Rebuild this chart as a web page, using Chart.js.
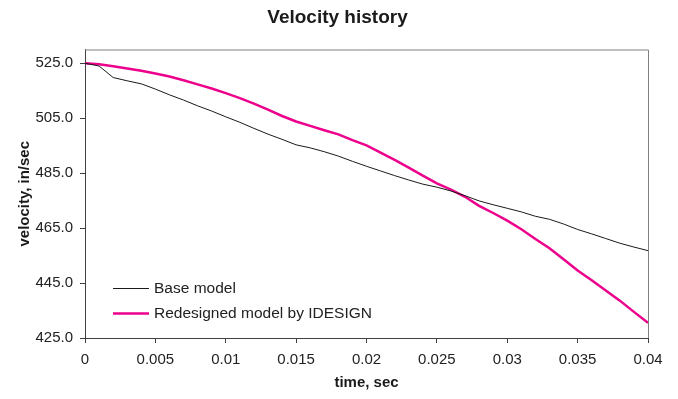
<!DOCTYPE html>
<html>
<head>
<meta charset="utf-8">
<script src="https://cdn.jsdelivr.net/npm/chart.js@4"></script>
<style>
  html, body { margin: 0; padding: 0; background: #fff; }
  canvas { display: block; }
</style>
</head>
<body>
<canvas id="chart" width="678" height="399"></canvas>
<script>
// time, sec
const times = [0, 0.001, 0.002, 0.003, 0.004, 0.005, 0.006, 0.007, 0.008, 0.009,
  0.010, 0.011, 0.012, 0.013, 0.014, 0.015, 0.016, 0.017, 0.018, 0.019,
  0.020, 0.021, 0.022, 0.023, 0.024, 0.025, 0.026, 0.027, 0.028, 0.029,
  0.030, 0.031, 0.032, 0.033, 0.034, 0.035, 0.036, 0.037, 0.038, 0.039, 0.040];

// velocity, in/sec
const baseModel = [525.0, 524.0, 519.8, 518.6, 517.5, 515.6, 513.5, 511.6, 509.5, 507.6,
  505.5, 503.5, 501.3, 499.2, 497.3, 495.3, 494.2, 492.8, 491.2, 489.3,
  487.5, 485.8, 484.1, 482.5, 481.0, 479.9, 478.5, 476.8, 474.9, 473.5,
  472.2, 470.9, 469.3, 468.2, 466.5, 464.5, 462.9, 461.2, 459.5, 458.1, 456.8];

const redesigned = [525.0, 524.6, 523.9, 523.1, 522.3, 521.3, 520.2, 518.8, 517.3, 515.8,
  514.1, 512.3, 510.3, 508.1, 505.8, 503.8, 502.2, 500.6, 499.1, 497.0,
  495.1, 492.5, 489.8, 487.0, 484.1, 481.3, 479.0, 476.4, 473.1, 470.5,
  467.7, 464.6, 461.0, 457.7, 453.7, 449.6, 446.0, 442.3, 438.6, 434.5, 430.5];

const xTicks = [0, 0.005, 0.01, 0.015, 0.02, 0.025, 0.03, 0.035, 0.04];
const yTicks = [425, 445, 465, 485, 505, 525];

const toPoints = vals => vals.map((v, i) => ({ x: times[i], y: v }));

// frame round the plot area + legend inside it
const framePlugin = {
  id: "frame",
  afterDraw(chart) {
    const { ctx, chartArea: a } = chart;
    ctx.save();
    ctx.strokeStyle = "#808080";
    ctx.lineWidth = 1;
    ctx.beginPath();
    ctx.moveTo(a.left, a.top + 0.5);
    ctx.lineTo(a.right + 0.5, a.top + 0.5);
    ctx.lineTo(a.right + 0.5, a.bottom);
    ctx.stroke();

    // legend
    const rows = [288, 313];
    ctx.font = "15.5px 'Liberation Sans', Arial, sans-serif";
    ctx.textBaseline = "middle";
    ctx.fillStyle = "#222";
    chart.data.datasets.forEach((ds, i) => {
      ctx.strokeStyle = ds.borderColor;
      ctx.lineWidth = ds.borderWidth;
      ctx.beginPath();
      ctx.moveTo(113, rows[i] + 0.5);
      ctx.lineTo(149, rows[i] + 0.5);
      ctx.stroke();
      ctx.fillText(ds.label, 154, rows[i] + 1);
    });
    ctx.restore();
  }
};

Chart.defaults.font.family = "'Liberation Sans', Arial, sans-serif";
Chart.defaults.color = "#222";

new Chart(document.getElementById("chart"), {
  type: "line",
  data: {
    datasets: [
      {
        label: "Base model",
        data: toPoints(baseModel),
        borderColor: "#1a1a1a",
        borderWidth: 1,
        pointRadius: 0,
        tension: 0
      },
      {
        label: "Redesigned model by IDESIGN",
        data: toPoints(redesigned),
        borderColor: "#EC008C",
        borderWidth: 2.5,
        pointRadius: 0,
        tension: 0
      }
    ]
  },
  options: {
    responsive: false,
    animation: false,
    layout: { padding: { left: 27, right: 30, top: 0, bottom: 0 } },
    plugins: {
      legend: { display: false },
      tooltip: { enabled: false },
      title: {
        display: true,
        text: "Velocity history",
        color: "#1a1a1a",
        font: { size: 19, weight: "bold" },
        padding: { top: 6, bottom: 20.7 }
      }
    },
    scales: {
      x: {
        type: "linear",
        min: 0,
        max: 0.04,
        afterBuildTicks: s => { s.ticks = xTicks.map(v => ({ value: v })); },
        afterFit: s => { s.height = 61; },
        grid: { drawOnChartArea: false, tickLength: 5, color: "#404040" },
        border: { color: "#404040", width: 1 },
        ticks: {
          padding: 8,
          font: { size: 15 },
          maxRotation: 0,
          callback: v => String(+v.toFixed(3))
        },
        title: {
          display: true,
          text: "time, sec",
          color: "#1a1a1a",
          font: { size: 15, weight: "bold" },
          padding: { top: 0, bottom: 7 }
        }
      },
      y: {
        min: 425,
        max: 530,
        afterBuildTicks: s => { s.ticks = yTicks.map(v => ({ value: v })); },
        afterFit: s => { s.width = 58; },
        grid: { drawOnChartArea: false, tickLength: 5, color: "#404040" },
        border: { color: "#404040", width: 1 },
        ticks: {
          padding: 7,
          font: { size: 15 },
          callback: v => v.toFixed(1)
        },
        title: {
          display: true,
          text: "velocity, in/sec",
          color: "#1a1a1a",
          font: { size: 15, weight: "bold" },
          padding: { top: -11.5, bottom: 0 }
        }
      }
    }
  },
  plugins: [framePlugin]
});
</script>
</body>
</html>
